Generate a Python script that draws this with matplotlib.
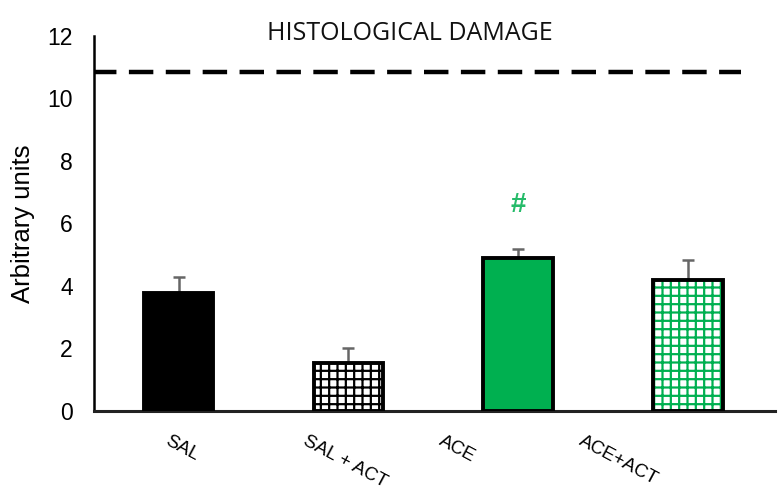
import matplotlib
matplotlib.use("Agg")
import matplotlib.pyplot as plt
import matplotlib.transforms as mtransforms

plt.rcParams['font.family'] = ['Liberation Sans', 'DejaVu Sans']
plt.rcParams['hatch.linewidth'] = 1.6

categories = ["SAL", "SAL + ACT", "ACE", "ACE+ACT"]
values = [3.78, 1.54, 4.90, 4.20]
errors = [0.50, 0.48, 0.29, 0.64]
reference_level = 10.83
sig_marker = "#"
sig_y = 6.6
title = "HISTOLOGICAL DAMAGE"
ylabel = "Arbitrary units"
yticks = [0, 2, 4, 6, 8, 10, 12]

green = "#00B050"
faces = ["black", "white", green, "white"]
hatches = [None, "++", None, "++"]
hatch_colors = ["black", "black", green, green]

fig = plt.figure(figsize=(7.81, 4.92), dpi=100)
ax = fig.add_axes([0.120, 0.165, 0.872, 0.762])

x = list(range(len(categories)))
for i in x:
    ax.bar(i, values[i], width=0.41, color=faces[i], edgecolor=hatch_colors[i],
           hatch=hatches[i], linewidth=0, zorder=2)
    ax.bar(i, values[i], width=0.41, facecolor="none", edgecolor="black",
           linewidth=2.8, zorder=3)
ax.errorbar(x, values, yerr=[[0] * len(values), errors], fmt="none",
            ecolor="#666666", elinewidth=1.8, capsize=4.5, capthick=1.8, zorder=1)

ax.plot([-0.51, 3.31], [reference_level, reference_level], color="black",
        linewidth=3.2, dashes=(5.5, 2.8), zorder=4)

ax.text(2, sig_y, sig_marker, color=green, ha="center", va="center",
        fontsize=20, fontweight="bold", alpha=0.85)
ax.text(1.36, 12.08, title, ha="center", va="center", fontsize=18,
        fontfamily="Open Sans", color="#111111")

ax.set_xlim(-0.50, 3.51)
ax.set_ylim(0, 12)
ax.set_yticks(yticks)
ax.set_yticklabels([str(t) for t in yticks], fontsize=16.5)
ax.set_ylabel(ylabel, fontsize=18.5, labelpad=9)
ax.tick_params(axis="both", length=0)
ax.tick_params(axis="y", pad=15)

ax.set_xticks(x)
ax.set_xticklabels(categories, fontsize=13.5, rotation=-28,
                   rotation_mode="anchor", ha="left", va="top")
offsets_px = [-8, -40, -74, -104]
for lab, dx in zip(ax.get_xticklabels(), offsets_px):
    lab.set_transform(lab.get_transform() +
                      mtransforms.ScaledTranslation(dx / 100, -17 / 100, fig.dpi_scale_trans))

for s in ["top", "right"]:
    ax.spines[s].set_visible(False)
ax.spines["left"].set_linewidth(1.8)
ax.spines["bottom"].set_linewidth(2.2)
ax.spines["bottom"].set_color("#222222")

fig.savefig("out.png", dpi=100)
